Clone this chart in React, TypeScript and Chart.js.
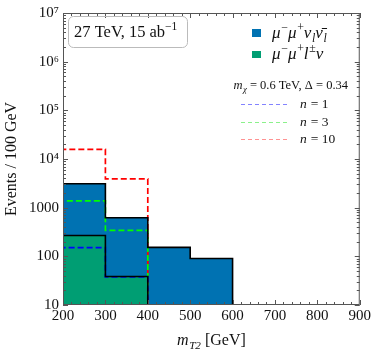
import React, { useEffect, useRef } from "react";
import { Chart, registerables } from "chart.js";

Chart.register(...registerables);

// ---- data ----
const binEdges = [200, 300, 400, 500, 600];
const totalBkg = [3100, 620, 153, 90]; // stacked total (mu mu nu nubar on top of mu mu l nu)
const wzBkg = [268, 38.5, 0, 0]; // mu mu l nu
const sigN1 = [151, 38, 0, 0];
const sigN3 = [1380, 343, 0, 0];
const sigN10 = [15800, 3900, 0, 0];
const edgeSpike = 36000;
const yTickValues = [10, 100, 1000, 1e4, 1e5, 1e6, 1e7];
const yTickLabels = ["10", "100", "1000", "10⁴", "10⁵", "10⁶", "10⁷"];
const xMin = 200;
const xMax = 900;
const yMin = 10;
const yMax = 1e7;

const BLUE = "#0072B2";
const GREEN = "#009E73";
const SERIF = "'Liberation Serif', 'DejaVu Serif', serif";

function stepPoints(vals: number[], withStartEdge: boolean) {
  const pts: { x: number; y: number }[] = [];
  let last = 0;
  if (withStartEdge) pts.push({ x: binEdges[0], y: yMin });
  for (let i = 0; i < vals.length; i++) {
    if (vals[i] <= 0) {
      pts.push({ x: binEdges[i], y: last });
      pts.push({ x: binEdges[i], y: yMin });
      return pts;
    }
    pts.push({ x: binEdges[i], y: vals[i] });
    last = vals[i];
  }
  pts.push({ x: binEdges[vals.length], y: last });
  pts.push({ x: binEdges[vals.length], y: yMin });
  return pts;
}
function fillPoints(vals: number[]) {
  const pts: { x: number; y: number }[] = [];
  let last = 0;
  for (let i = 0; i < vals.length; i++) {
    if (vals[i] <= 0) {
      pts.push({ x: binEdges[i], y: last });
      return pts;
    }
    pts.push({ x: binEdges[i], y: vals[i] });
    last = vals[i];
  }
  pts.push({ x: binEdges[vals.length], y: last });
  return pts;
}

type Seg = { t: string; i?: boolean; sup?: boolean; sub?: boolean };
function drawRich(ctx: CanvasRenderingContext2D, x: number, y: number, segs: Seg[], size: number, color = "#111", measureOnly = false) {
  let cx = x;
  for (const s of segs) {
    const sz = s.sup || s.sub ? size * 0.7 : size;
    ctx.font = `${s.i ? "italic " : ""}${sz}px ${SERIF}`;
    const dy = s.sup ? -size * 0.4 : s.sub ? size * 0.22 : 0;
    if (!measureOnly) {
      ctx.fillStyle = color;
      ctx.textBaseline = "alphabetic";
      ctx.textAlign = "left";
      ctx.fillText(s.t, cx, y + dy);
    }
    cx += ctx.measureText(s.t).width + (s.i && !s.sub && !s.sup ? size * 0.04 : 0);
  }
  return cx - x;
}

const decorPlugin = {
  id: "decor",
  afterDraw(chart: any) {
    const ctx: CanvasRenderingContext2D = chart.ctx;
    const { left, right, top, bottom } = chart.chartArea;
    const xs = chart.scales.x;
    const ys = chart.scales.y;
    ctx.save();
    ctx.strokeStyle = "#555";
    ctx.lineWidth = 1;
    ctx.strokeRect(left + 0.5, top + 0.5, right - left - 1, bottom - top - 1);
    ctx.beginPath();
    for (let v = xMin; v <= xMax; v += 20) {
      const px = Math.round(xs.getPixelForValue(v)) + 0.5;
      const len = v % 100 === 0 ? 5 : 3;
      ctx.moveTo(px, bottom);
      ctx.lineTo(px, bottom - len);
      ctx.moveTo(px, top);
      ctx.lineTo(px, top + len);
    }
    for (let d = yMin; d < yMax * 1.01; d *= 10) {
      for (let k = 1; k <= 9; k++) {
        const v = d * k;
        if (v > yMax * 1.01) break;
        const py = Math.round(ys.getPixelForValue(v)) + 0.5;
        const len = k === 1 ? 5 : 3;
        ctx.moveTo(left, py);
        ctx.lineTo(left + len, py);
        ctx.moveTo(right, py);
        ctx.lineTo(right - len, py);
      }
    }
    ctx.stroke();

    // energy box
    ctx.strokeStyle = "#bbb";
    ctx.lineWidth = 1;
    ctx.beginPath();
    (ctx as any).roundRect(68.5, 16.5, 119, 31, 5);
    ctx.stroke();
    drawRich(ctx, 74, 37, [{ t: "27 TeV, 15 ab" }, { t: "−1", sup: true }], 16.5);

    // legend patches
    ctx.fillStyle = BLUE;
    ctx.fillRect(252, 29, 9, 8);
    ctx.fillStyle = GREEN;
    ctx.fillRect(252, 51, 9, 7);
    drawRich(ctx, 272, 38, [
      { t: "μ", i: true }, { t: "−", sup: true }, { t: "μ", i: true }, { t: "+", sup: true },
      { t: "ν", i: true }, { t: "l", i: true, sub: true }, { t: "ν̄", i: true }, { t: "l", i: true, sub: true },
    ], 17);
    drawRich(ctx, 272, 59, [
      { t: "μ", i: true }, { t: "−", sup: true }, { t: "μ", i: true }, { t: "+", sup: true },
      { t: "l", i: true }, { t: "±", sup: true }, { t: "ν", i: true },
    ], 17);

    const mSegs: Seg[] = [{ t: "m", i: true }, { t: "χ", i: true, sub: true }, { t: " = 0.6 TeV, Δ = 0.34" }];
    const w = drawRich(ctx, 0, 0, mSegs, 12.5, "#111", true);
    drawRich(ctx, 348 - w, 89, mSegs, 12.5);
    const lines = [
      { c: "rgba(90,90,255,0.75)", label: "1", y: 104 },
      { c: "rgba(90,235,90,0.7)", label: "3", y: 122 },
      { c: "rgba(255,100,100,0.7)", label: "10", y: 139 },
    ];
    for (const l of lines) {
      ctx.strokeStyle = l.c;
      ctx.lineWidth = 1;
      ctx.setLineDash([4, 3]);
      ctx.beginPath();
      ctx.moveTo(241, l.y + 0.5);
      ctx.lineTo(289, l.y + 0.5);
      ctx.stroke();
      ctx.setLineDash([]);
      drawRich(ctx, 300, l.y + 4, [{ t: "n", i: true }, { t: " = " + l.label }], 13.5);
    }

    const xt: Seg[] = [{ t: "m", i: true }, { t: "T2", i: true, sub: true }, { t: " [GeV]" }];
    const xw = drawRich(ctx, 0, 0, xt, 16, "#111", true);
    drawRich(ctx, (left + right) / 2 - xw / 2, 345, xt, 16);
    ctx.restore();
  },
};

export default function App() {
  const ref = useRef<HTMLCanvasElement | null>(null);
  useEffect(() => {
    if (!ref.current) return;
    const common = { pointRadius: 0, stepped: "before" as const, tension: 0 };
    const chart = new Chart(ref.current, {
      type: "line",
      data: {
        datasets: [
          { ...common, data: stepPoints(totalBkg, true), borderColor: "#000", borderWidth: 1.6, fill: false, order: 1 },
          { ...common, data: stepPoints(wzBkg, false), borderColor: "#000", borderWidth: 1.6, fill: false, order: 1 },
          { ...common, data: [{ x: binEdges[0], y: yMin }, { x: binEdges[0], y: edgeSpike }], borderColor: "#000", borderWidth: 2, fill: false, order: 1 },
          { ...common, data: stepPoints(sigN1, true), borderColor: "#0000ff", borderWidth: 1.7, borderDash: [6, 3], fill: false, order: 2 },
          { ...common, data: stepPoints(sigN3, true), borderColor: "#00ff00", borderWidth: 1.7, borderDash: [6, 3], fill: false, order: 2 },
          { ...common, data: stepPoints(sigN10, true), borderColor: "#ff0000", borderWidth: 1.7, borderDash: [6, 3], fill: false, order: 2 },
          { ...common, data: fillPoints(wzBkg), borderWidth: 0, borderColor: "rgba(0,0,0,0)", backgroundColor: GREEN, fill: "start", order: 3 },
          { ...common, data: fillPoints(totalBkg), borderWidth: 0, borderColor: "rgba(0,0,0,0)", backgroundColor: BLUE, fill: "start", order: 4 },
        ],
      },
      options: {
        animation: false,
        responsive: false,
        layout: { padding: { top: 9, right: 12, left: 0, bottom: 0 } },
        plugins: { legend: { display: false }, tooltip: { enabled: false } },
        scales: {
          x: {
            type: "linear",
            min: xMin,
            max: xMax,
            grid: { display: false, drawTicks: false },
            border: { display: false },
            ticks: { stepSize: 100, padding: 2, color: "#111", font: { family: SERIF, size: 15 }, maxRotation: 0, autoSkip: false },
            afterFit: (s: any) => { s.height = 49; },
          },
          y: {
            type: "logarithmic",
            min: yMin,
            max: yMax,
            grid: { display: false, drawTicks: false },
            border: { display: false },
            afterBuildTicks: (s: any) => { s.ticks = yTickValues.map((v) => ({ value: v })); },
            ticks: {
              padding: 4,
              color: "#111",
              font: { family: SERIF, size: 15 },
              autoSkip: false,
              callback: (v: any) => {
                const i = yTickValues.indexOf(Number(v));
                return i >= 0 ? yTickLabels[i] : "";
              },
            },
            title: { display: true, text: "Events / 100 GeV", color: "#111", font: { family: SERIF, size: 16 }, padding: { top: 2, bottom: 0 } },
            afterFit: (s: any) => { s.width = 63; },
          },
        },
      },
      plugins: [decorPlugin],
    } as any);
    return () => chart.destroy();
  }, []);
  return (
    <div style={{ position: "fixed", left: 0, top: 0, width: 373, height: 354, background: "#fff" }}>
      <canvas ref={ref} width={373} height={354} />
    </div>
  );
}
